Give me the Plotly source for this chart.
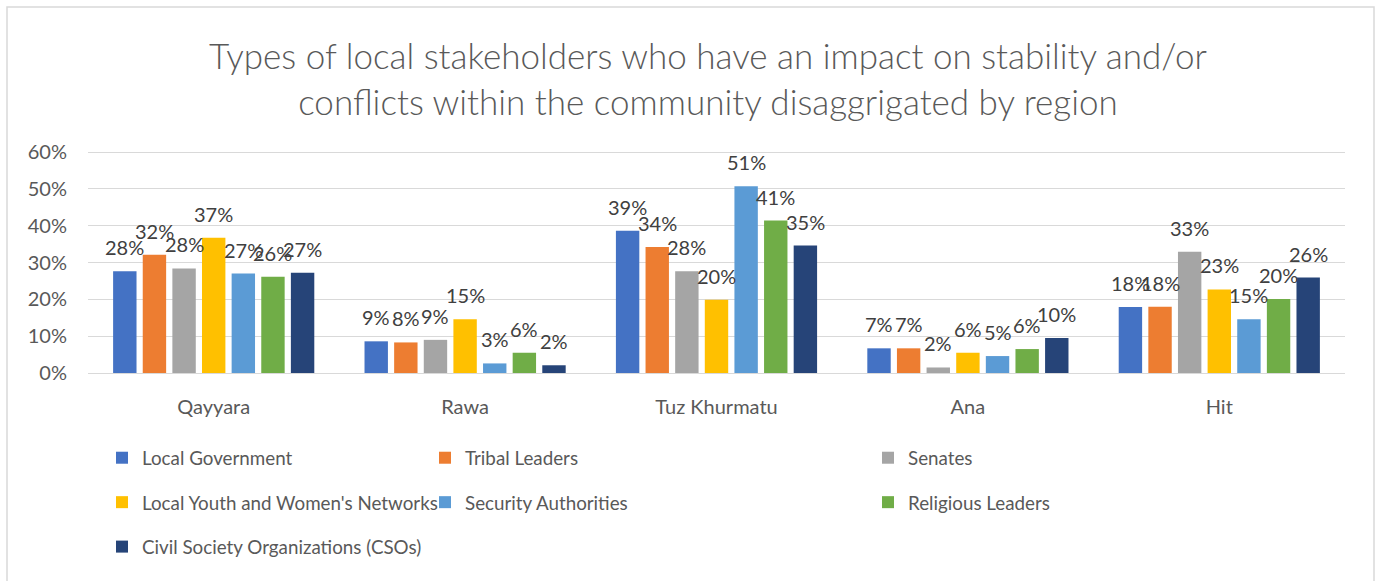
import plotly.graph_objects as go

regions = ["Qayyara", "Rawa", "Tuz Khurmatu", "Ana", "Hit"]
series_names = [
    "Local Government",
    "Tribal Leaders",
    "Senates",
    "Local Youth and Women's Networks",
    "Security Authorities",
    "Religious Leaders",
    "Civil Society Organizations (CSOs)",
]
local_government = [0.276, 0.086, 0.386, 0.067, 0.179]
tribal_leaders = [0.321, 0.083, 0.342, 0.067, 0.180]
senates = [0.284, 0.090, 0.276, 0.015, 0.329]
youth_women = [0.367, 0.146, 0.199, 0.055, 0.227]
security = [0.270, 0.026, 0.507, 0.046, 0.146]
religious = [0.261, 0.055, 0.414, 0.065, 0.201]
cso = [0.272, 0.021, 0.346, 0.095, 0.259]
series_values = [local_government, tribal_leaders, senates, youth_women,
                 security, religious, cso]
colors = ["#4472C4", "#ED7D31", "#A5A5A5", "#FFC000", "#5B9BD5", "#70AD47", "#264478"]
legend_ids = ["legend", "legend2", "legend3", "legend", "legend2", "legend3", "legend"]
y_tick_vals = [0, 0.1, 0.2, 0.3, 0.4, 0.5, 0.6]
y_tick_text = ["0%", "10%", "20%", "30%", "40%", "50%", "60%"]

FONT = "Lato, 'Open Sans', sans-serif"
W, H = 1380, 581
ML, MR, MT, MB = 88, 35, 148, 208
BARGAP = 0.175
plot_w = W - ML - MR
plot_h = H - MT - MB
Y_TOP = 0.6 * plot_h / 221.0  # 60% line sits 221 px above the baseline

fig = go.Figure()
for i, (name, vals) in enumerate(zip(series_names, series_values)):
    fig.add_trace(go.Bar(
        x=regions, y=vals, name=name,
        marker=dict(color=colors[i], line=dict(width=0)),
        legend=legend_ids[i], legendgroup=name,
        hovertemplate="%{x}: %{y:.0%}<extra>" + name + "</extra>",
    ))

# data labels above bars
n = len(series_names)
slot = plot_w / len(regions) * (1 - BARGAP) / n
annotations = []
for i, vals in enumerate(series_values):
    for r, v in zip(regions, vals):
        annotations.append(dict(
            x=r, y=v, xref="x", yref="y", text=f"{round(v*100):.0f}%",
            showarrow=False, xshift=(i - (n - 1) / 2) * slot, yshift=24,
            yanchor="middle", xanchor="center",
            font=dict(family=FONT, size=20, color="#404040"),
        ))

def px_x(p):
    return (p - ML) / plot_w

def px_y(p):
    return (H - MB - p) / plot_h

legend_common = dict(
    orientation="v", xanchor="left", yanchor="top",
    font=dict(family=FONT, size=18.8, color="#595959"),
    bgcolor="rgba(0,0,0,0)", borderwidth=0,
    traceorder="grouped", tracegroupgap=17, itemclick=False,
)

fig.update_layout(
    width=W, height=H,
    margin=dict(l=ML, r=MR, t=MT, b=MB, pad=0, autoexpand=False),
    paper_bgcolor="white", plot_bgcolor="white",
    barmode="group", bargap=BARGAP, bargroupgap=0.21,
    title=dict(
        text="Types of local stakeholders who have an impact on stability and/or<br>conflicts within the community disaggrigated by region",
        x=708 / W, xanchor="center", xref="container",
        y=1 - 69 / H, yanchor="middle", yref="container",
        font=dict(family=FONT, size=35, color="#595959", weight=300),
    ),
    xaxis=dict(
        showgrid=False, showline=False, zeroline=False, ticks="",
        tickfont=dict(family=FONT, size=20, color="#595959"),
        ticklabelstandoff=20,
    ),
    yaxis=dict(
        range=[0, Y_TOP], tickvals=y_tick_vals, ticktext=y_tick_text,
        showgrid=True, gridcolor="#D9D9D9", gridwidth=1.3,
        zeroline=True, zerolinecolor="#D9D9D9", zerolinewidth=1.3,
        showline=False, ticks="",
        tickfont=dict(family=FONT, size=20, color="#595959"),
        ticklabelstandoff=20,
    ),
    legend=dict(legend_common, x=px_x(102), y=px_y(439)),
    legend2=dict(legend_common, x=px_x(425), y=px_y(439)),
    legend3=dict(legend_common, x=px_x(868), y=px_y(439)),
    annotations=annotations,
    shapes=[dict(
        type="rect", xref="paper", yref="paper",
        x0=px_x(7), x1=px_x(1374), y0=px_y(600), y1=px_y(7),
        line=dict(color="#D9D9D9", width=1.5), fillcolor="rgba(0,0,0,0)",
        layer="below",
    )],
    showlegend=True,
)

fig.write_html("out.html")
